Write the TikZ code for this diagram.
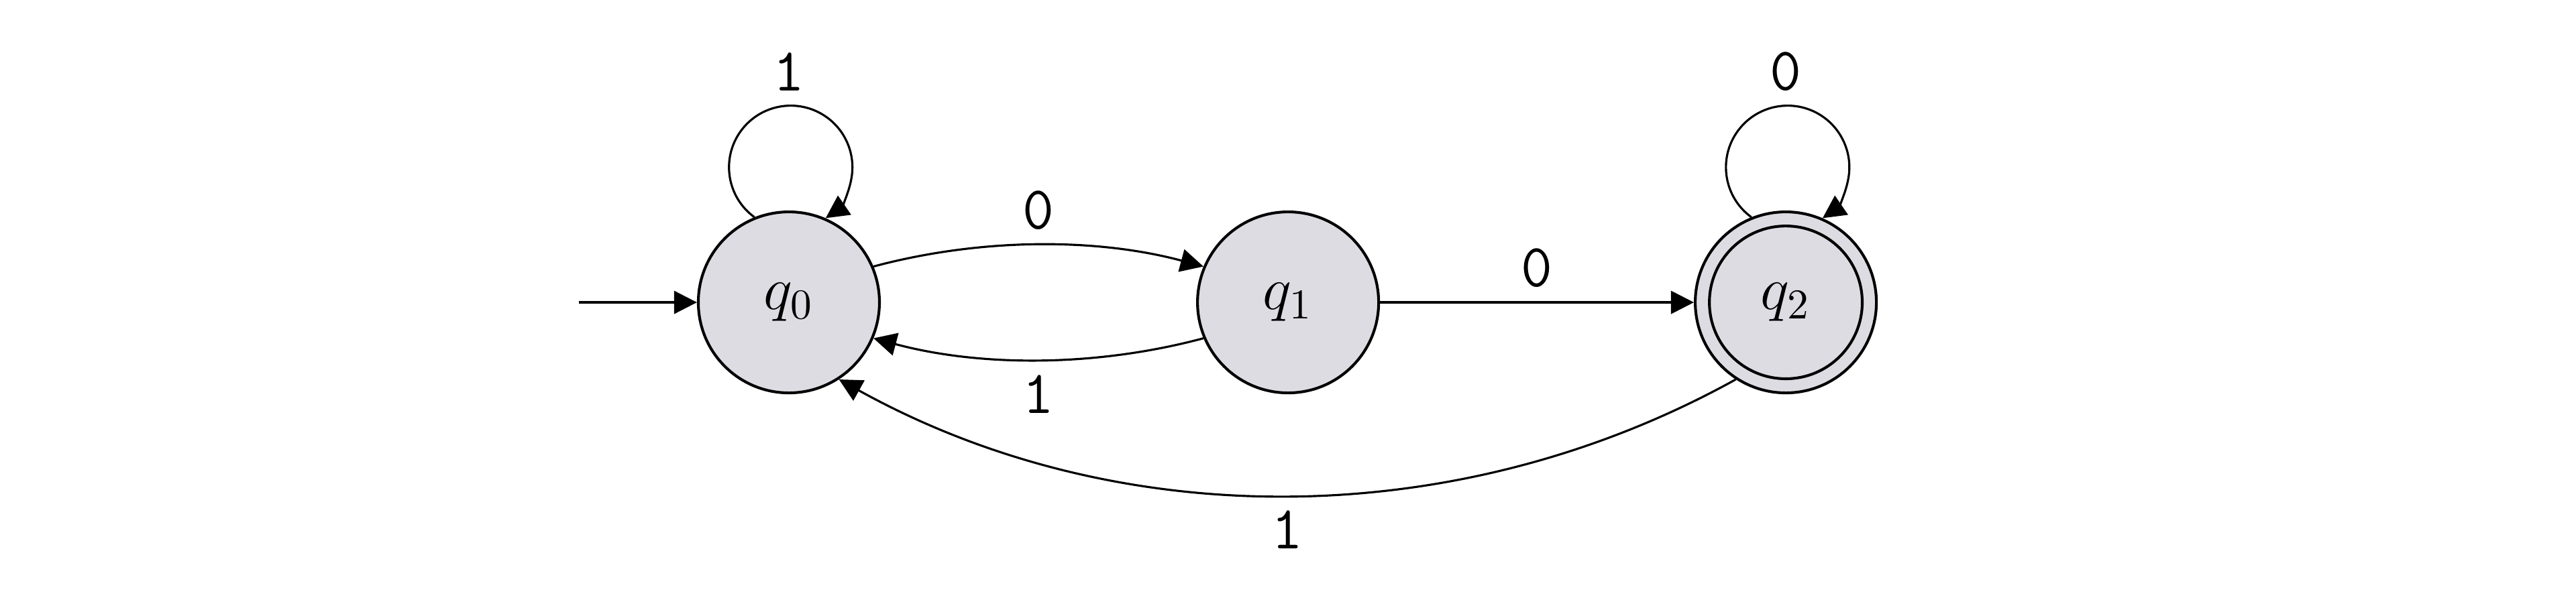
\documentclass[tikz,border=0pt]{standalone}
\usetikzlibrary{arrows.meta}
\definecolor{statefill}{RGB}{222,220,227}
\begin{document}
\begin{tikzpicture}[
    state/.style={draw, circle, fill=statefill, line width=0.65pt, minimum size=1.5cm, inner sep=0pt, font=\Large},
    accept/.style={path picture={\draw[line width=0.65pt] (path picture bounding box.center) circle (0.633cm);}},
    edge/.style={-{Triangle[length=5.4pt,width=5.4pt]}, line width=0.5pt},
    lbl/.style={font=\Large\ttfamily}
]
    \useasboundingbox (0,0) rectangle (21.333,5);
    \node[state] (q0) at (6.533,2.494) {$q_0$};
    \node[state] (q1) at (10.667,2.494) {$q_1$};
    \node[state, accept] (q2) at (14.789,2.494) {$q_2$};
    \coordinate (start) at (4.794,2.494);

    \draw[edge] (start) -- (q0);
    % self loops
    \draw[edge] (q0.112) arc[start angle=234, end angle=-55.5, radius=0.511cm];
    \node[lbl, above] (loop0) at ([yshift=1.63cm]q0.center) {1};
    \draw[edge] (q2.112) arc[start angle=234, end angle=-55.5, radius=0.511cm];
    \node[lbl, above] (loop2) at ([yshift=1.63cm]q2.center) {0};

    \draw[edge] (q0.23) to[out=15, in=165, distance=0.92cm] node[lbl, above] {0} (q1.157);
    \draw[edge] (q1.203) to[out=195, in=-15, distance=0.92cm] node[lbl, below] {1} (q0.-23);
    \draw[edge] (q1) -- node[lbl, above] {0} (q2);
    \draw[edge] (q2.237) to[out=209, in=-29, distance=2.64cm] node[lbl, below] {1} (q0.303);
\end{tikzpicture}
\end{document}
